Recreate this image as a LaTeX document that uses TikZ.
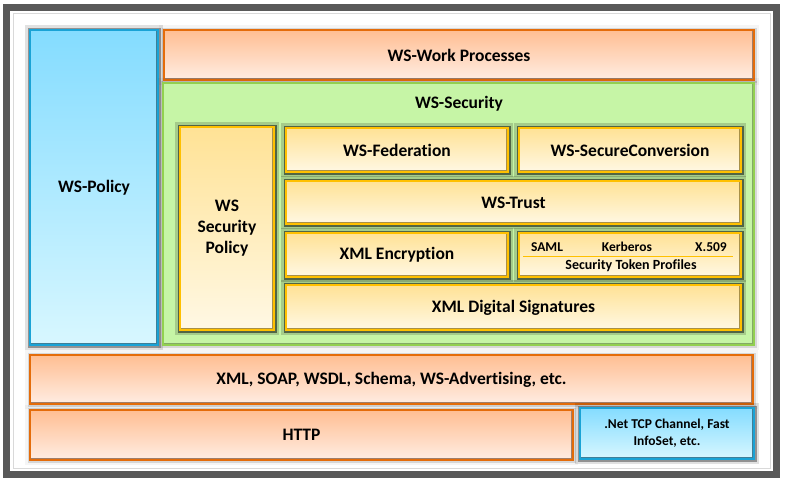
\documentclass[tikz,border=0pt]{standalone}
\usepackage{fontspec}
\setmainfont{Carlito}[Ligatures=NoCommon]

\definecolor{orangeline}{HTML}{E46C0A}
\definecolor{orangetop}{HTML}{FFBE92}
\definecolor{orangebot}{HTML}{FFEDE3}
\definecolor{orangedark}{HTML}{A07E6A}
\definecolor{blueline}{HTML}{1AA3D6}
\definecolor{bluetop}{HTML}{84DCFF}
\definecolor{bluebot}{HTML}{D8F7FF}
\definecolor{bluedark}{HTML}{3F7F98}
\definecolor{greenline}{HTML}{92D050}
\definecolor{greenfill}{HTML}{C6F5A6}
\definecolor{greendark}{HTML}{84AA66}
\definecolor{yellowline}{HTML}{FFC000}
\definecolor{yellowtop}{HTML}{FFE295}
\definecolor{yellowbot}{HTML}{FFF8E4}
\definecolor{yellowdark}{HTML}{A89048}

\begin{document}
\begin{tikzpicture}[x=1pt,y=-1pt,
    bevel/.style={path picture={
      \draw[line width=4.5pt, #1] (path picture bounding box.south west) -- (path picture bounding box.south east)
        -- (path picture bounding box.north east);}},
    halo/.style={preaction={draw=black, line width=10pt, opacity=#1/3},
      preaction={draw=black, line width=5pt, opacity=#1}},
    layer/.style={anchor=north west, inner sep=0pt, outer sep=0pt, line width=1.2pt,
      font=\fontsize{17.5}{21}\selectfont\bfseries, align=center},
    orangelayer/.style={layer, halo=.12, draw=orangeline, top color=orangetop, bottom color=orangebot, bevel=orangedark},
    bluelayer/.style={layer, halo=.35, draw=blueline, top color=bluetop, bottom color=bluebot, bevel=bluedark},
    greenlayer/.style={layer, halo=.12, draw=greenline, fill=greenfill, bevel=greendark},
    yellowlayer/.style={layer, halo=.5, draw=yellowline, top color=yellowtop, bottom color=yellowbot, bevel=yellowdark},
    small/.style={font=\fontsize{13.5}{16}\selectfont\bfseries, inner sep=0pt}
  ]
  \fill[white] (0,0) rectangle (785,483);
  \useasboundingbox (0,0) rectangle (785,483);
  % frame
  \draw[line width=7pt, black!65] (6,7) rectangle (776.5,474.5);
  \draw[line width=0.8pt, black!15] (13,13) rectangle (770,468);

  \node[bluelayer, minimum width=128pt, minimum height=315pt] (policy) at (30,30) {WS-Policy};
  \node[orangelayer, minimum width=590pt, minimum height=50pt] (work) at (164,30) {WS-Work Processes};
  \node[greenlayer, minimum width=591pt, minimum height=262pt] (security) at (163,83) {};
  \node[font=\fontsize{17.5}{21}\selectfont\bfseries] (seclabel) at (459,104) {WS-Security};

  \node[yellowlayer, minimum width=94pt, minimum height=203pt] (secpolicy) at (180,127) {WS\\Security\\Policy};
  \node[yellowlayer, minimum width=222pt, minimum height=44pt] (federation) at (286,128) {WS-Federation};
  \node[yellowlayer, minimum width=222pt, minimum height=44pt] (secconv) at (519,128) {WS-SecureConversion};
  \node[yellowlayer, minimum width=455pt, minimum height=43pt] (trust) at (286,181) {WS-Trust};
  \node[yellowlayer, minimum width=222pt, minimum height=44pt] (encryption) at (286,233) {XML Encryption};
  \node[yellowlayer, minimum width=222pt, minimum height=44pt] (tokens) at (519,233) {};
  \node[yellowlayer, minimum width=455pt, minimum height=45pt] (signatures) at (286,285) {XML Digital Signatures};

  % token profiles
  \node[small] (saml) at (547,247) {SAML};
  \node[small] (kerberos) at (627,247) {Kerberos};
  \node[small] (x509) at (711,247) {X.509};
  \draw[yellowline, line width=0.9pt] (523,256) -- (733,256);
  \node[small, font=\fontsize{14}{16}\selectfont\bfseries] (profiles) at (631,266) {Security Token Profiles};

  \node[orangelayer, minimum width=723pt, minimum height=49pt] (xmlsoap) at (30,355) {XML, SOAP, WSDL, Schema, WS-Advertising, etc.};
  \node[orangelayer, minimum width=543pt, minimum height=50pt] (http) at (30,410) {HTTP};
  \node[bluelayer, minimum width=174pt, minimum height=51pt,
    font=\fontsize{13.5}{17}\selectfont\bfseries] (dotnet) at (580,408) {.Net TCP Channel, Fast\\InfoSet, etc.};
\end{tikzpicture}
\end{document}
